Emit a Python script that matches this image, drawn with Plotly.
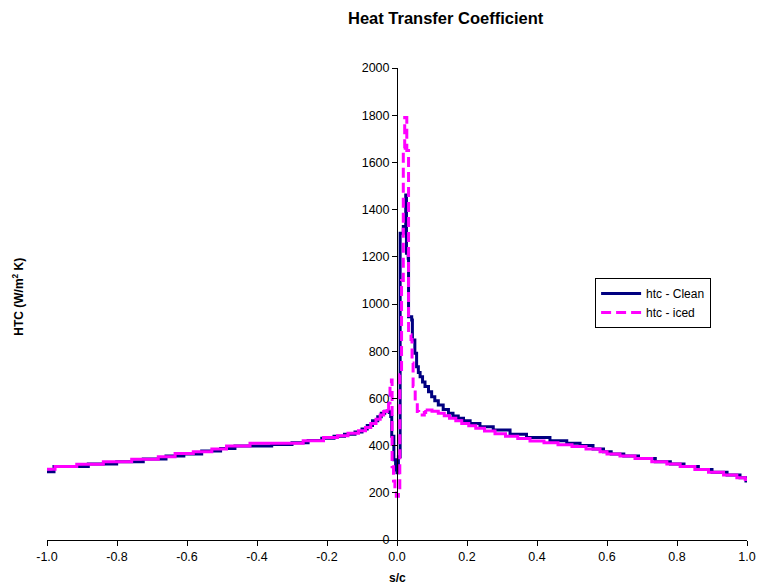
import numpy as np
import plotly.graph_objects as go

# Surface position along the airfoil (s/c) and heat transfer coefficient (W/m^2 K)
s_clean = [
    -1.000, -0.980, -0.882, -0.801, -0.725, -0.660, -0.609, -0.558, -0.504, -0.463,
    -0.358, -0.300, -0.254, -0.215, -0.180, -0.150, -0.120, -0.100, -0.085, -0.070,
    -0.055, -0.045, -0.035, -0.022, -0.018, -0.015, -0.009, -0.004, 0.000, 0.004,
    0.009, 0.018, 0.025, 0.027, 0.032, 0.033, 0.042, 0.044, 0.051, 0.056,
    0.061, 0.066, 0.073, 0.080, 0.090, 0.099, 0.108, 0.118, 0.132, 0.147,
    0.160, 0.175, 0.190, 0.209, 0.237, 0.275, 0.323, 0.370, 0.437, 0.485,
    0.523, 0.560, 0.590, 0.612, 0.648, 0.690, 0.738, 0.781, 0.820, 0.861,
    0.900, 0.943, 0.980, 0.997, 1.000,
]
htc_clean = [
    289, 311, 322, 332, 343, 356, 364, 377, 388, 398,
    405, 412, 422, 431, 440, 448, 458, 470, 485, 505,
    522, 537, 546, 540, 523, 440, 340, 297, 285, 353,
    1300, 1328, 1462, 1215, 1194, 946, 932, 847, 791, 734,
    710, 692, 670, 650, 628, 607, 590, 572, 553, 537,
    525, 516, 505, 494, 480, 466, 448, 434, 421, 410,
    400, 386, 374, 364, 356, 345, 332, 322, 311, 299,
    287, 275, 264, 250, 247,
]

s_iced = [
    -1.000, -0.977, -0.915, -0.839, -0.758, -0.682, -0.634, -0.582, -0.529, -0.487,
    -0.420, -0.268, -0.210, -0.170, -0.140, -0.110, -0.090, -0.075, -0.060, -0.048,
    -0.038, -0.028, -0.024, -0.020, -0.016, -0.014, -0.010, -0.006, -0.002, 0.004,
    0.008, 0.013, 0.018, 0.022, 0.028, 0.033, 0.040, 0.043, 0.046, 0.052,
    0.058, 0.062, 0.078, 0.082, 0.100, 0.118, 0.135, 0.150, 0.168, 0.185,
    0.205, 0.225, 0.250, 0.280, 0.310, 0.345, 0.380, 0.420, 0.460, 0.500,
    0.540, 0.580, 0.600, 0.637, 0.680, 0.728, 0.771, 0.809, 0.851, 0.890,
    0.933, 0.971, 0.995, 1.000,
]
htc_iced = [
    300, 311, 321, 332, 342, 353, 367, 374, 386, 398,
    410, 421, 434, 442, 452, 463, 477, 494, 512, 530,
    545, 555, 580, 650, 678, 310, 250, 199, 185, 200,
    700, 1100, 1660, 1790, 1650, 870, 850, 750, 650, 580,
    545, 530, 540, 551, 546, 537, 527, 516, 505, 494,
    484, 474, 462, 450, 440, 430, 420, 412, 404, 396,
    386, 374, 364, 356, 345, 332, 322, 311, 299, 287,
    275, 264, 256, 254,
]

x_ticks = [-1.0, -0.8, -0.6, -0.4, -0.2, 0.0, 0.2, 0.4, 0.6, 0.8, 1.0]
y_ticks = list(range(0, 2001, 200))

NAVY = "#000080"
MAGENTA = "#FF00FF"
FONT = "Liberation Sans, Arial, sans-serif"

s_iced_arr = np.array(s_iced)
htc_iced_arr = np.array(htc_iced)
# The iced curve reads as dashed only through the sharp leading-edge region
i0 = int(np.argmax(s_iced_arr >= -0.028))
i1 = int(np.where(s_iced_arr <= 0.082)[0][-1])

fig = go.Figure()
fig.add_trace(go.Scatter(
    x=s_clean, y=htc_clean, mode="lines", name="htc - Clean",
    line=dict(color=NAVY, width=3, shape="hv"),
))
fig.add_trace(go.Scatter(
    x=s_iced_arr[: i0 + 1], y=htc_iced_arr[: i0 + 1], mode="lines",
    showlegend=False, line=dict(color=MAGENTA, width=3, shape="hv"),
))
fig.add_trace(go.Scatter(
    x=s_iced_arr[i0: i1 + 1], y=htc_iced_arr[i0: i1 + 1], mode="lines",
    name="htc - iced", line=dict(color=MAGENTA, width=3, shape="hv", dash="10px,5px"),
))
fig.add_trace(go.Scatter(
    x=s_iced_arr[i1:], y=htc_iced_arr[i1:], mode="lines",
    showlegend=False, line=dict(color=MAGENTA, width=3, shape="hv"),
))

fig.update_layout(
    width=757, height=588,
    margin=dict(l=47, r=10, t=68, b=48, autoexpand=False),
    paper_bgcolor="white", plot_bgcolor="white",
    font=dict(family=FONT, size=12, color="black"),
    showlegend=True,
    legend=dict(
        x=0.783, y=0.555, xanchor="left", yanchor="top",
        bordercolor="black", borderwidth=1, bgcolor="white",
        font=dict(family=FONT, size=12, color="black"),
        tracegroupgap=0, itemwidth=40,
    ),
    xaxis=dict(
        range=[-1, 1], tickvals=x_ticks, ticktext=[f"{v:.1f}" for v in x_ticks],
        showgrid=False, zeroline=False, showline=True, linecolor="black", linewidth=1,
        ticks="outside", ticklen=5, tickcolor="black", tickwidth=1, automargin=False,
        tickfont=dict(family=FONT, size=12.5, color="black"),
    ),
    yaxis=dict(
        range=[0, 2000], tickvals=y_ticks,
        anchor="free", position=0.5, automargin=False,
        showgrid=False, zeroline=False, showline=True, linecolor="black", linewidth=1,
        ticks="outside", ticklen=5, tickcolor="black", tickwidth=1,
        tickfont=dict(family=FONT, size=12.5, color="black"),
    ),
    annotations=[
        dict(text="<b>Heat Transfer Coefficient</b>", xref="paper", yref="paper",
             x=0.57, y=1.106, xanchor="center", yanchor="middle", showarrow=False,
             font=dict(family=FONT, size=16.5, color="black")),
        dict(text="<b>s/c</b>", xref="paper", yref="paper",
             x=0.5, y=-0.08, xanchor="center", yanchor="middle", showarrow=False,
             font=dict(family=FONT, size=12, color="black")),
        dict(text="<b>HTC (W/m<sup>2</sup> K)</b>", xref="paper", yref="paper",
             x=-0.041, y=0.516, xanchor="center", yanchor="middle", showarrow=False,
             textangle=-90, font=dict(family=FONT, size=12, color="black")),
    ],
)

fig.write_html("out.html")
